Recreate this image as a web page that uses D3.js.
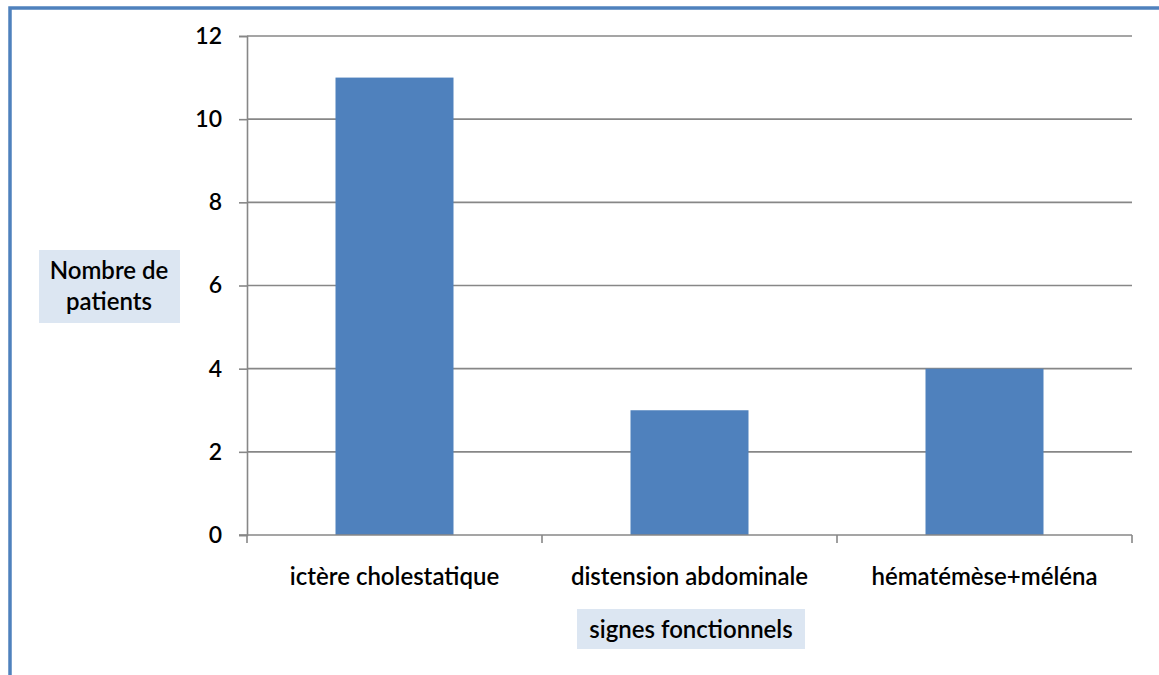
<!DOCTYPE html>
<html>
<head>
<meta charset="utf-8">
<script src="https://cdn.jsdelivr.net/npm/d3@7"></script>
<style>
  html, body { margin: 0; padding: 0; background: #fff; }
  svg { display: block; }
  text { font-family: Lato, "Open Sans", sans-serif; fill: #000; font-weight: 600; }
</style>
</head>
<body>
<script>
// Signes fonctionnels : nombre de patients par signe
const categories = ["ictère cholestatique", "distension abdominale", "hématémèse+méléna"];
const patients = [11, 3, 4];
const yTicks = [0, 2, 4, 6, 8, 10, 12];
const yTitle = ["Nombre de", "patients"];
const xTitle = "signes fonctionnels";

const W = 1159, H = 675;
const plot = { left: 247, right: 1132, top: 36, bottom: 535 };

const svg = d3.select("body").append("svg")
  .attr("width", W).attr("height", H);

// frame (top and left edges visible)
svg.append("path")
  .attr("d", `M10,${H} L10,8 L${W},8`)
  .attr("fill", "none")
  .attr("stroke", "#4f81bd")
  .attr("stroke-width", 3.5);

const x = d3.scaleBand().domain(categories).range([plot.left, plot.right]).padding(0);
const y = d3.scaleLinear().domain([0, 12]).range([plot.bottom, plot.top]);

const gridColor = "#878787";

// horizontal gridlines
svg.append("g").selectAll("line")
  .data(yTicks.filter(d => d > 0))
  .join("line")
  .attr("x1", plot.left).attr("x2", plot.right)
  .attr("y1", d => y(d)).attr("y2", d => y(d))
  .attr("stroke", gridColor).attr("stroke-width", 1.6);

// bars
const barW = x.bandwidth() * 0.4;
svg.append("g").selectAll("rect")
  .data(categories)
  .join("rect")
  .attr("x", (d) => x(d) + (x.bandwidth() - barW) / 2)
  .attr("width", barW)
  .attr("y", (d, i) => y(patients[i]))
  .attr("height", (d, i) => y(0) - y(patients[i]))
  .attr("fill", "#4f81bd");

// y axis
const yAxis = d3.axisLeft(y).tickValues(yTicks).tickSize(8).tickPadding(17);
const gy = svg.append("g").attr("transform", `translate(${plot.left},0)`).call(yAxis);
gy.select(".domain").attr("stroke", gridColor).attr("stroke-width", 1.6);
gy.selectAll(".tick line").attr("stroke", gridColor).attr("stroke-width", 1.6);
gy.selectAll(".tick text")
  .attr("font-size", 23).attr("font-family", "Lato, sans-serif").attr("fill", "#000");

// x axis: baseline plus tick marks at category boundaries
const gx = svg.append("g");
gx.append("line")
  .attr("x1", plot.left - 8).attr("x2", plot.right)
  .attr("y1", y(0)).attr("y2", y(0))
  .attr("stroke", gridColor).attr("stroke-width", 1.6);
const bounds = categories.map(c => x(c)).concat([x.range()[1]]);
gx.selectAll("line.tk")
  .data(bounds)
  .join("line")
  .attr("class", "tk")
  .attr("x1", d => d).attr("x2", d => d)
  .attr("y1", y(0)).attr("y2", y(0) + 8)
  .attr("stroke", gridColor).attr("stroke-width", 1.6);
gx.selectAll("text")
  .data(categories)
  .join("text")
  .attr("x", d => x(d) + x.bandwidth() / 2)
  .attr("y", 585)
  .attr("text-anchor", "middle")
  .attr("font-size", 24)
  .text(d => d);

// y title box
svg.append("rect")
  .attr("x", 39).attr("y", 250).attr("width", 141).attr("height", 73)
  .attr("fill", "#dce6f2");
svg.append("text")
  .attr("text-anchor", "middle")
  .attr("font-size", 24)
  .selectAll("tspan")
  .data(yTitle)
  .join("tspan")
  .attr("x", 109)
  .attr("y", (d, i) => 279 + i * 31)
  .text(d => d);

// x title box
svg.append("rect")
  .attr("x", 577).attr("y", 609).attr("width", 228).attr("height", 40)
  .attr("fill", "#dce6f2");
svg.append("text")
  .attr("x", 691).attr("y", 638)
  .attr("text-anchor", "middle")
  .attr("font-size", 24)
  .text(xTitle);
</script>
</body>
</html>
